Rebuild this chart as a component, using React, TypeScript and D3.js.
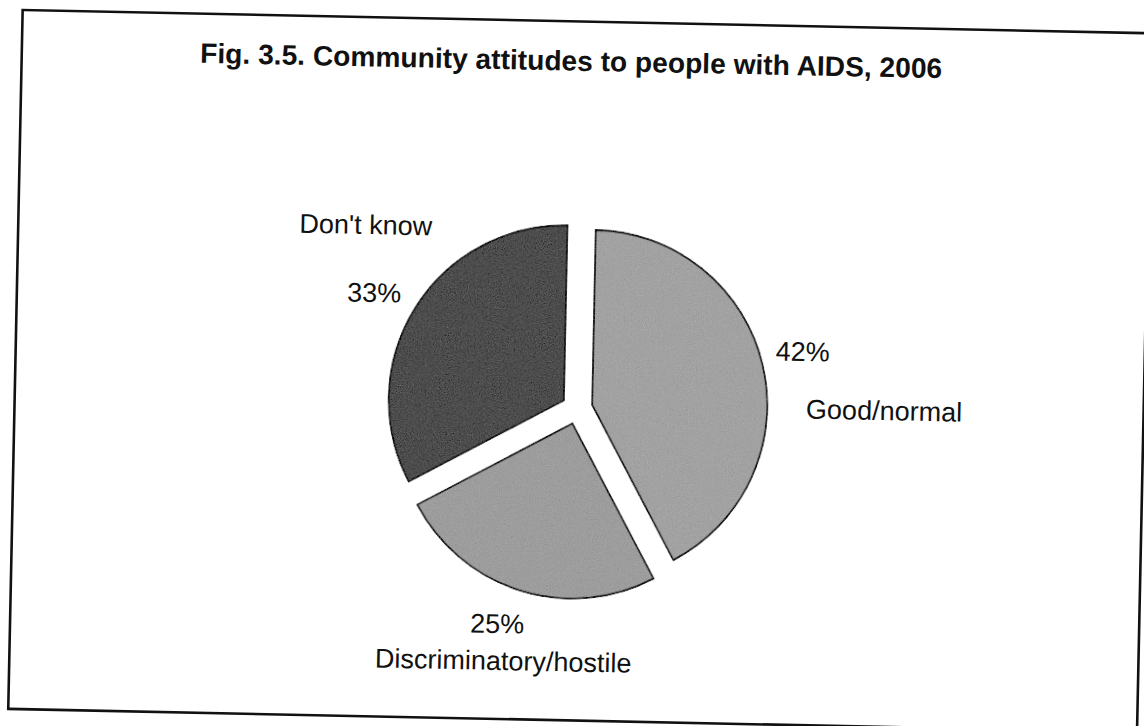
import React from "react";
import * as d3 from "d3";

// Survey shares, clockwise from 12 o'clock
const categories = ["Good/normal", "Discriminatory/hostile", "Don't know"];
const values = [42, 25, 33];
const fills = ["#a2a2a2", "#9d9d9d", "#4d4d4d"];

const title = "Fig. 3.5. Community attitudes to people with AIDS, 2006";

const W = 1144;
const H = 726;

// the whole page is tilted slightly clockwise
const TILT = 1.18;
const PIVOT: [number, number] = [572, 363];

// pie geometry (in the un-tilted frame)
const CX = 578;
const CY = 408.5;
const R = 175;
const EXPLODE = 15.6;

// label placement (name + percentage per slice)
const labelLayout: Record<string, { name: [number, number]; pct: [number, number] }> = {
  "Good/normal": { name: [885, 413.6], pct: [802.4, 356.3] },
  "Discriminatory/hostile": { name: [509.3, 671.4], pct: [502.6, 634.5] },
  "Don't know": { name: [363, 238.3], pct: [372.8, 306.1] },
};

const FONT = "'Liberation Sans', Arial, Helvetica, sans-serif";

export default function App() {
  const data = categories.map((c, i) => ({ name: c, value: values[i], fill: fills[i] }));
  const pie = d3
    .pie<{ name: string; value: number; fill: string }>()
    .sort(null)
    .value((d) => d.value)
    .startAngle(0)
    .endAngle(2 * Math.PI);
  const arcs = pie(data);
  const arc = d3
    .arc<d3.PieArcDatum<{ name: string; value: number; fill: string }>>()
    .innerRadius(0)
    .outerRadius(R);

  return (
    <svg
      width={W}
      height={H}
      viewBox={`0 0 ${W} ${H}`}
      style={{ position: "absolute", left: 0, top: 0, display: "block", background: "#fff" }}
    >
      <defs>
        <filter id="grain" x="-5%" y="-5%" width="110%" height="110%">
          <feTurbulence type="fractalNoise" baseFrequency="0.85" numOctaves="2" seed="7" result="noise" />
          <feColorMatrix
            in="noise"
            type="matrix"
            values="0.33 0.33 0.33 0 0  0.33 0.33 0.33 0 0  0.33 0.33 0.33 0 0  0 0 0 0 1"
            result="mono"
          />
          <feComposite in="SourceGraphic" in2="mono" operator="arithmetic" k1="0" k2="1" k3="0.32" k4="-0.16" result="mix" />
          <feComposite in="mix" in2="SourceGraphic" operator="in" />
        </filter>
      </defs>
      <rect x={0} y={0} width={W} height={H} fill="#fff" />
      <g transform={`rotate(${TILT}, ${PIVOT[0]}, ${PIVOT[1]})`}>
        <rect x={15.5} y={21.4} width={1129} height={699} fill="none" stroke="#111" strokeWidth={2.6} />
        <text
          x={194}
          y={70.6}
          fontFamily={FONT}
          fontWeight="bold"
          fontSize={28}
          fill="#111"
          textLength={742}
          lengthAdjust="spacingAndGlyphs"
        >
          {title}
        </text>
        <g transform={`translate(${CX}, ${CY})`}>
          {arcs.map((a) => {
            const mid = (a.startAngle + a.endAngle) / 2;
            const dx = Math.sin(mid) * EXPLODE;
            const dy = -Math.cos(mid) * EXPLODE;
            return (
              <path
                key={a.data.name}
                d={arc(a) || ""}
                transform={`translate(${dx}, ${dy})`}
                fill={a.data.fill}
                stroke="#111"
                strokeWidth={1.8}
                strokeLinejoin="miter"
                filter="url(#grain)"
              />
            );
          })}
        </g>
        {arcs.map((a) => {
          const L = labelLayout[a.data.name];
          return (
            <g key={"lbl-" + a.data.name} fontFamily={FONT} fontSize={27} fill="#111" textAnchor="middle">
              <text x={L.pct[0]} y={L.pct[1]}>{`${a.data.value}%`}</text>
              <text x={L.name[0]} y={L.name[1]}>{a.data.name}</text>
            </g>
          );
        })}
      </g>
    </svg>
  );
}
